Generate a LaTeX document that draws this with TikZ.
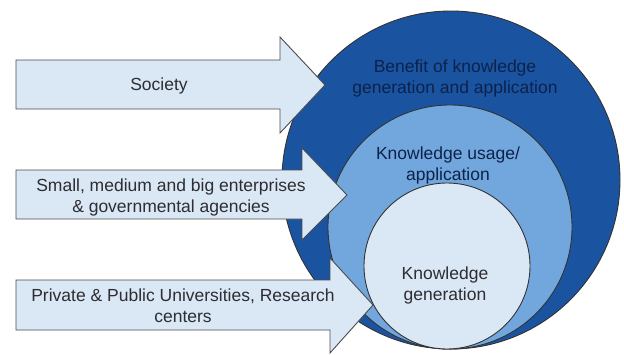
\documentclass[tikz,border=0pt]{standalone}
\usepackage{fontspec}
\setmainfont{Liberation Sans}
\usetikzlibrary{positioning}

\definecolor{outerblue}{RGB}{26,84,160}
\definecolor{midblue}{RGB}{114,167,221}
\definecolor{paleblue}{RGB}{218,231,245}
\definecolor{navytext}{RGB}{12,34,76}
\definecolor{greytext}{RGB}{45,45,50}

\begin{document}
\begin{tikzpicture}[
  x=1pt,y=-1pt,
  ring/.style={circle,draw=black!80,line width=0.9pt,inner sep=0pt},
  blockarrow/.style={draw=black!70,fill=paleblue,line width=0.9pt,line join=miter},
  every node/.style={font=\fontsize{17.5}{21}\selectfont,align=center}
]
\useasboundingbox (0,0) rectangle (624,354);

% nested circles
\node[ring,fill=outerblue,minimum size=338] (benefit) at (451,180) {};
\node[ring,fill=midblue,minimum size=244] (usage) at (450,227) {};
\node[ring,fill=paleblue,minimum size=166] (generation) at (447,266) {};

\node[text=navytext] (benefittxt) at (455,78) {Benefit of knowledge\\generation and application};
\node[text=navytext] (usagetxt) at (448,165) {Knowledge usage/\\application};
\node[text=greytext] (generationtxt) at (445,285) {Knowledge\\generation};

% arrows into the circles
\draw[blockarrow] (16,60) -- (280,60) -- (280,37) -- (325,85)
  -- (280,133) -- (280,109) -- (16,109) -- cycle;
\draw[blockarrow] (16,170) -- (302,170) -- (302,148) -- (347,195)
  -- (302,240) -- (302,219) -- (16,219) -- cycle;
\draw[blockarrow] (16,280) -- (330,280) -- (330,258) -- (373,305)
  -- (330,353) -- (330,330) -- (16,330) -- cycle;

\node[text=greytext] (society) at (159,86) {Society};
\node[text=greytext] (enterprises) at (171,197) {Small, medium and big enterprises\\\& governmental agencies};
\node[text=greytext] (universities) at (183,306) {Private \& Public Universities, Research\\centers};
\end{tikzpicture}
\end{document}
